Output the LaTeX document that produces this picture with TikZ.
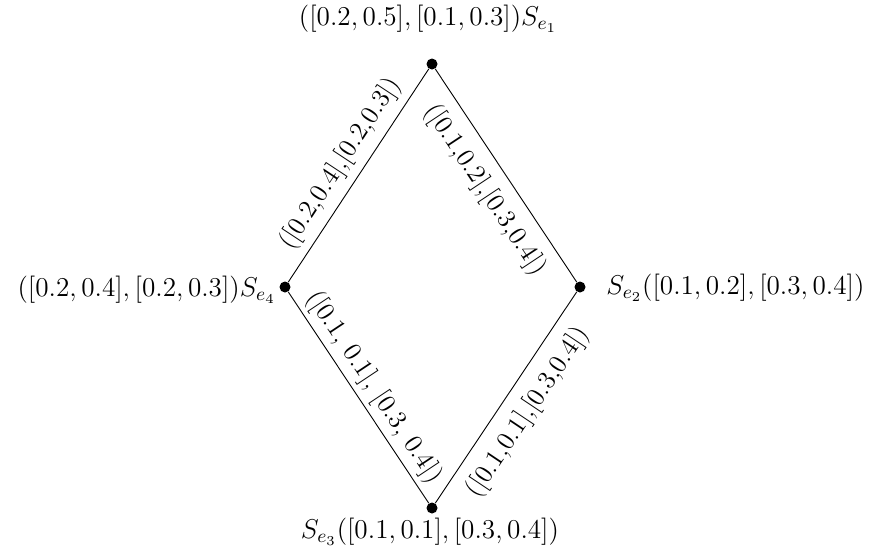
\documentclass[tikz,border=0pt]{standalone}
\usepackage{fix-cm}
\begin{document}
\begin{tikzpicture}[x=0.5pt,y=-0.5pt,
  vertex/.style={circle,fill,inner sep=0pt,minimum size=5.5pt},
  vlabel/.style={inner sep=0pt,font=\fontsize{13.6}{15}\selectfont},
  elabel/.style={sloped,inner sep=0pt,font=\fontsize{13}{15}\selectfont},
  edge/.style={line width=0.45pt}]
\useasboundingbox (0,0) rectangle (876,554);

% vertices of the diamond
\node[vertex] (v1) at (432,64) {};
\node[vertex] (v2) at (580,287) {};
\node[vertex] (v3) at (432,508) {};
\node[vertex] (v4) at (285,287) {};

% vertex labels
\node[vlabel] (l1) at (428,19) {$([0.2,0.5],[0.1,0.3])S_{e_1}$};
\node[vlabel,anchor=west] (l2) at (606,288) {$S_{e_2}([0.1,0.2],[0.3,0.4])$};
\node[vlabel] (l3) at (430,532) {$S_{e_3}([0.1,0.1],[0.3,0.4])$};
\node[vlabel,anchor=east] (l4) at (276,290) {$([0.2,0.4],[0.2,0.3])S_{e_4}$};

% edges with their labels
\draw[edge] (v4) -- node[elabel,above=4pt] {([0.2,0.4],[0.2,0.3])} (v1);
\draw[edge] (v1) -- node[elabel,below=6pt] {([0.1,0.2],[0.3,0.4])} (v2);
\draw[edge] (v4) -- node[elabel,above=2.5pt] {([0.1, 0.1], [0.3, 0.4])} (v3);
\draw[edge] (v3) -- node[elabel,below=6.5pt] {([0.1,0.1],[0.3,0.4])} (v2);
\end{tikzpicture}
\end{document}
